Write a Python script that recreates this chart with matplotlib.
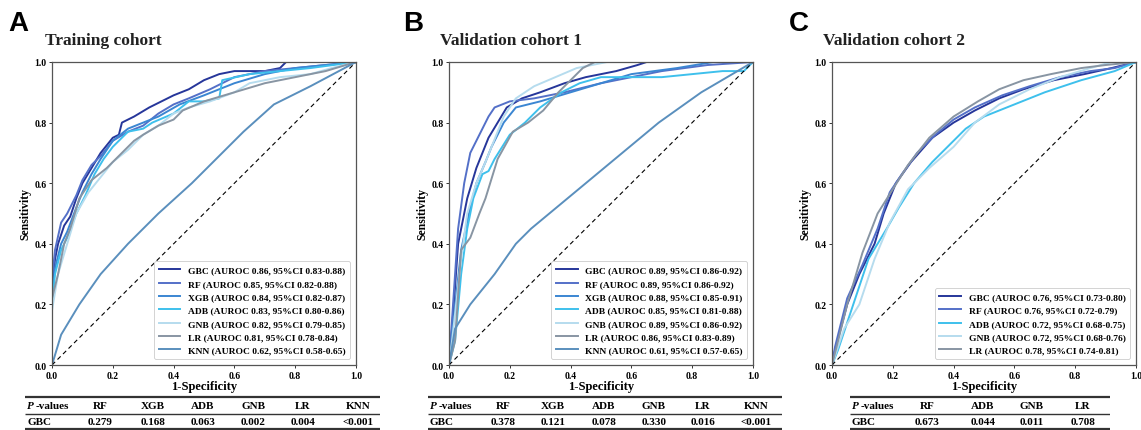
import matplotlib.pyplot as plt

# ---- data ----
models_a = ['GBC', 'RF', 'XGB', 'ADB', 'GNB', 'LR', 'KNN']
labels_a = ['GBC (AUROC 0.86, 95%CI 0.83-0.88)', 'RF (AUROC 0.85, 95%CI 0.82-0.88)',
            'XGB (AUROC 0.84, 95%CI 0.82-0.87)', 'ADB (AUROC 0.83, 95%CI 0.80-0.86)',
            'GNB (AUROC 0.82, 95%CI 0.79-0.85)', 'LR (AUROC 0.81, 95%CI 0.78-0.84)',
            'KNN (AUROC 0.62, 95%CI 0.58-0.65)']
roc_a = {
    'GBC': ([0, 0, 0.01, 0.02, 0.04, 0.06, 0.08, 0.10, 0.13, 0.16, 0.20, 0.22, 0.23, 0.27, 0.32, 0.36, 0.40, 0.45, 0.50, 0.55, 0.60, 0.70, 0.75, 0.77, 1.0],
            [0, 0.25, 0.35, 0.40, 0.46, 0.49, 0.55, 0.60, 0.65, 0.70, 0.75, 0.76, 0.80, 0.82, 0.85, 0.87, 0.89, 0.91, 0.94, 0.96, 0.97, 0.97, 0.98, 1.0, 1.0]),
    'RF': ([0, 0, 0.01, 0.03, 0.05, 0.08, 0.10, 0.13, 0.16, 0.20, 0.25, 0.30, 0.35, 0.40, 0.45, 0.52, 0.60, 0.70, 0.80, 0.90, 1.0],
           [0, 0.28, 0.38, 0.47, 0.50, 0.56, 0.61, 0.66, 0.69, 0.74, 0.77, 0.79, 0.83, 0.86, 0.88, 0.91, 0.95, 0.97, 0.98, 0.99, 1.0]),
    'XGB': ([0, 0, 0.01, 0.03, 0.05, 0.08, 0.10, 0.13, 0.16, 0.20, 0.25, 0.30, 0.35, 0.42, 0.50, 0.60, 0.70, 0.80, 0.90, 1.0],
            [0, 0.22, 0.32, 0.40, 0.44, 0.52, 0.57, 0.63, 0.68, 0.74, 0.78, 0.80, 0.82, 0.86, 0.89, 0.93, 0.96, 0.98, 0.99, 1.0]),
    'ADB': ([0, 0, 0.01, 0.03, 0.05, 0.08, 0.11, 0.14, 0.17, 0.20, 0.25, 0.30, 0.33, 0.40, 0.45, 0.50, 0.55, 0.56, 0.65, 0.75, 0.85, 1.0],
            [0, 0.20, 0.30, 0.38, 0.42, 0.50, 0.56, 0.63, 0.68, 0.72, 0.77, 0.78, 0.80, 0.83, 0.87, 0.87, 0.88, 0.94, 0.96, 0.97, 0.98, 1.0]),
    'GNB': ([0, 0, 0.02, 0.05, 0.08, 0.12, 0.16, 0.20, 0.25, 0.30, 0.35, 0.40, 0.45, 0.52, 0.60, 0.65, 0.75, 0.85, 0.92, 1.0],
            [0, 0.18, 0.30, 0.40, 0.50, 0.57, 0.62, 0.67, 0.71, 0.76, 0.79, 0.83, 0.85, 0.87, 0.90, 0.93, 0.95, 0.96, 0.98, 1.0]),
    'LR': ([0, 0, 0.02, 0.04, 0.06, 0.09, 0.13, 0.18, 0.23, 0.27, 0.30, 0.35, 0.40, 0.43, 0.50, 0.60, 0.70, 0.80, 0.90, 1.0],
           [0, 0.22, 0.30, 0.40, 0.45, 0.55, 0.61, 0.65, 0.70, 0.74, 0.76, 0.79, 0.81, 0.84, 0.87, 0.90, 0.93, 0.95, 0.97, 1.0]),
    'KNN': ([0, 0.03, 0.09, 0.16, 0.25, 0.35, 0.46, 0.56, 0.63, 0.73, 0.85, 1.0],
            [0, 0.10, 0.20, 0.30, 0.40, 0.50, 0.60, 0.70, 0.77, 0.86, 0.92, 1.0]),
}

models_b = ['GBC', 'RF', 'XGB', 'ADB', 'GNB', 'LR', 'KNN']
labels_b = ['GBC (AUROC 0.89, 95%CI 0.86-0.92)', 'RF (AUROC 0.89, 95%CI 0.86-0.92)',
            'XGB (AUROC 0.88, 95%CI 0.85-0.91)', 'ADB (AUROC 0.85, 95%CI 0.81-0.88)',
            'GNB (AUROC 0.89, 95%CI 0.86-0.92)', 'LR (AUROC 0.86, 95%CI 0.83-0.89)',
            'KNN (AUROC 0.61, 95%CI 0.57-0.65)']
roc_b = {
    'GBC': ([0, 0.01, 0.03, 0.06, 0.09, 0.11, 0.13, 0.16, 0.19, 0.24, 0.30, 0.38, 0.45, 0.55, 0.62, 0.65, 1.0],
            [0, 0.12, 0.40, 0.55, 0.65, 0.70, 0.75, 0.80, 0.85, 0.88, 0.90, 0.93, 0.95, 0.97, 0.99, 1.0, 1.0]),
    'RF': ([0, 0.01, 0.03, 0.05, 0.07, 0.09, 0.11, 0.13, 0.15, 0.20, 0.28, 0.38, 0.50, 0.60, 0.70, 0.85, 1.0],
           [0, 0.15, 0.45, 0.60, 0.70, 0.74, 0.78, 0.82, 0.85, 0.87, 0.88, 0.90, 0.93, 0.95, 0.97, 0.99, 1.0]),
    'XGB': ([0, 0.01, 0.04, 0.07, 0.09, 0.12, 0.14, 0.18, 0.22, 0.30, 0.40, 0.50, 0.60, 0.75, 0.87, 1.0],
            [0, 0.10, 0.38, 0.52, 0.60, 0.67, 0.72, 0.80, 0.85, 0.87, 0.90, 0.93, 0.96, 0.98, 1.0, 1.0]),
    'ADB': ([0, 0.02, 0.04, 0.06, 0.08, 0.11, 0.13, 0.15, 0.20, 0.25, 0.30, 0.37, 0.43, 0.50, 0.60, 0.70, 0.80, 0.90, 0.97, 1.0],
            [0, 0.08, 0.30, 0.45, 0.55, 0.63, 0.64, 0.68, 0.76, 0.80, 0.85, 0.90, 0.93, 0.95, 0.95, 0.95, 0.96, 0.97, 0.97, 1.0]),
    'GNB': ([0, 0.01, 0.04, 0.06, 0.09, 0.12, 0.14, 0.18, 0.22, 0.28, 0.35, 0.42, 0.52, 1.0],
            [0, 0.08, 0.35, 0.50, 0.60, 0.67, 0.72, 0.82, 0.88, 0.92, 0.95, 0.98, 1.0, 1.0]),
    'LR': ([0, 0.02, 0.04, 0.07, 0.10, 0.12, 0.16, 0.21, 0.26, 0.31, 0.36, 0.41, 0.44, 0.48, 1.0],
           [0, 0.08, 0.38, 0.42, 0.50, 0.55, 0.68, 0.77, 0.80, 0.84, 0.90, 0.95, 0.98, 1.0, 1.0]),
    'KNN': ([0, 0.02, 0.07, 0.15, 0.22, 0.27, 0.33, 0.45, 0.57, 0.69, 0.83, 1.0],
            [0, 0.12, 0.20, 0.30, 0.40, 0.45, 0.50, 0.60, 0.70, 0.80, 0.90, 1.0]),
}

models_c = ['GBC', 'RF', 'ADB', 'GNB', 'LR']
labels_c = ['GBC (AUROC 0.76, 95%CI 0.73-0.80)', 'RF (AUROC 0.76, 95%CI 0.72-0.79)',
            'ADB (AUROC 0.72, 95%CI 0.68-0.75)', 'GNB (AUROC 0.72, 95%CI 0.68-0.76)',
            'LR (AUROC 0.78, 95%CI 0.74-0.81)']
roc_c = {
    'GBC': ([0, 0.01, 0.05, 0.09, 0.14, 0.17, 0.21, 0.26, 0.33, 0.40, 0.47, 0.55, 0.63, 0.73, 0.83, 0.92, 1.0],
            [0, 0.05, 0.20, 0.30, 0.40, 0.50, 0.60, 0.67, 0.75, 0.80, 0.84, 0.88, 0.91, 0.94, 0.96, 0.98, 1.0]),
    'RF': ([0, 0.01, 0.05, 0.10, 0.15, 0.19, 0.23, 0.28, 0.34, 0.40, 0.47, 0.56, 0.65, 0.75, 0.85, 0.93, 1.0],
           [0, 0.06, 0.22, 0.33, 0.45, 0.57, 0.63, 0.70, 0.76, 0.81, 0.85, 0.89, 0.92, 0.95, 0.97, 0.98, 1.0]),
    'ADB': ([0, 0.02, 0.07, 0.12, 0.18, 0.22, 0.27, 0.33, 0.38, 0.44, 0.50, 0.60, 0.70, 0.82, 0.93, 1.0],
            [0, 0.05, 0.20, 0.35, 0.45, 0.52, 0.60, 0.67, 0.72, 0.78, 0.82, 0.86, 0.90, 0.94, 0.97, 1.0]),
    'GNB': ([0, 0.02, 0.04, 0.09, 0.14, 0.19, 0.25, 0.32, 0.40, 0.47, 0.55, 0.65, 0.75, 0.85, 0.92, 1.0],
            [0, 0.06, 0.12, 0.20, 0.35, 0.47, 0.58, 0.65, 0.72, 0.80, 0.86, 0.91, 0.95, 0.98, 1.0, 1.0]),
    'LR': ([0, 0.02, 0.05, 0.10, 0.15, 0.20, 0.25, 0.32, 0.40, 0.48, 0.55, 0.63, 0.72, 0.82, 0.90, 1.0],
           [0, 0.08, 0.20, 0.37, 0.50, 0.58, 0.66, 0.75, 0.82, 0.87, 0.91, 0.94, 0.96, 0.98, 0.99, 1.0]),
}

# p-value tables
cols_a = ['RF', 'XGB', 'ADB', 'GNB', 'LR', 'KNN']
pvals_a = ['0.279', '0.168', '0.063', '0.002', '0.004', '<0.001']
cols_b = ['RF', 'XGB', 'ADB', 'GNB', 'LR', 'KNN']
pvals_b = ['0.378', '0.121', '0.078', '0.330', '0.016', '<0.001']
cols_c = ['RF', 'ADB', 'GNB', 'LR']
pvals_c = ['0.673', '0.044', '0.011', '0.708']

colors = {'GBC': '#26369a', 'RF': '#5470c8', 'XGB': '#3b86d2', 'ADB': '#3ec0ec',
          'GNB': '#b6dcee', 'LR': '#8895a3', 'KNN': '#5a8fbd'}

W, H = 1141, 431
SERIF = 'Liberation Serif'


def px_rect(x0, y0, x1, y1):
    # pixel box (top-left origin) -> figure fraction rect
    return [x0 / W, 1 - y1 / H, (x1 - x0) / W, (y1 - y0) / H]


fig = plt.figure(figsize=(W / 100, H / 100), dpi=100)


def roc_panel(x0, letter, title, models, labels, roc, lx, tx):
    ax = fig.add_axes(px_rect(x0, 63, x0 + 304, 366))
    for m, lab in zip(models, labels):
        fpr, tpr = roc[m]
        ax.plot(fpr, tpr, color=colors[m], lw=1.4, label=lab)
    ax.plot([0, 1], [0, 1], color='black', lw=0.8, ls=(0, (4, 3)))
    ax.set_xlim(0, 1)
    ax.set_ylim(0, 1)
    ax.set_xticks([0, 0.2, 0.4, 0.6, 0.8, 1.0])
    ax.set_yticks([0, 0.2, 0.4, 0.6, 0.8, 1.0])
    ax.tick_params(labelsize=7, length=2.5, width=0.7, pad=1.5, colors='#333333')
    for t in ax.get_xticklabels() + ax.get_yticklabels():
        t.set_fontfamily(SERIF)
        t.set_fontweight('bold')
        t.set_color('black')
    for s in ax.spines.values():
        s.set_color('#555555')
        s.set_linewidth(0.9)
    ax.set_xlabel('1-Specificity', fontfamily=SERIF, fontweight='bold', fontsize=9, labelpad=0)
    ax.set_ylabel('Sensitivity', fontfamily=SERIF, fontweight='bold', fontsize=8.5, labelpad=2)
    leg = ax.legend(loc='lower right', prop={'family': SERIF, 'weight': 'bold', 'size': 6.8},
                    handlelength=2.3, labelspacing=0.5, borderpad=0.5, handletextpad=0.8,
                    borderaxespad=0.6, framealpha=1)
    leg.get_frame().set_edgecolor('#cccccc')
    leg.get_frame().set_linewidth(0.6)
    fig.text(lx / W, 1 - 24 / H, letter, fontfamily='Liberation Sans', fontweight='bold',
             fontsize=20, va='center', ha='left')
    fig.text(tx / W, 1 - 41 / H, title, fontfamily=SERIF, fontweight='bold',
             fontsize=12.5, va='center', ha='left', color='#222222')
    return ax


def p_table(x0, x1, label_x, col_x, cols, vals):
    tab = fig.add_axes(px_rect(x0, 396, x1, 431))
    tab.set_axis_off()
    tab.set_xlim(x0, x1)
    tab.set_ylim(431, 396)
    tab.plot([x0, x1], [398, 398], color='#333333', lw=1.6, solid_capstyle='butt')
    tab.plot([x0, x1], [415, 415], color='#333333', lw=1.0, solid_capstyle='butt')
    tab.plot([x0, x1], [429.5, 429.5], color='#333333', lw=1.6, solid_capstyle='butt')
    kw = dict(fontfamily=SERIF, fontweight='bold', fontsize=8, va='center')
    tab.text(label_x, 407, 'P', style='italic', ha='left', **kw)
    tab.text(label_x + 8.5, 407, '-values', ha='left', **kw)
    tab.text(label_x, 423, 'GBC', ha='left', **kw)
    for cx, c, v in zip(col_x, cols, vals):
        tab.text(cx, 407, c, ha='center', **kw)
        tab.text(cx, 423, v, ha='center', **kw)


roc_panel(52, 'A', 'Training cohort', models_a, labels_a, roc_a, 8, 45)
roc_panel(449, 'B', 'Validation cohort 1', models_b, labels_b, roc_b, 403, 440)
roc_panel(832, 'C', 'Validation cohort 2', models_c, labels_c, roc_c, 789, 823)

p_table(25, 380, 27, [100, 153, 203, 253, 303, 358], cols_a, pvals_a)
p_table(428, 782, 430, [503, 553, 604, 654, 703, 756], cols_b, pvals_b)
p_table(850, 1110, 852, [927, 983, 1032, 1083], cols_c, pvals_c)

fig.savefig('out.png', dpi=100)
